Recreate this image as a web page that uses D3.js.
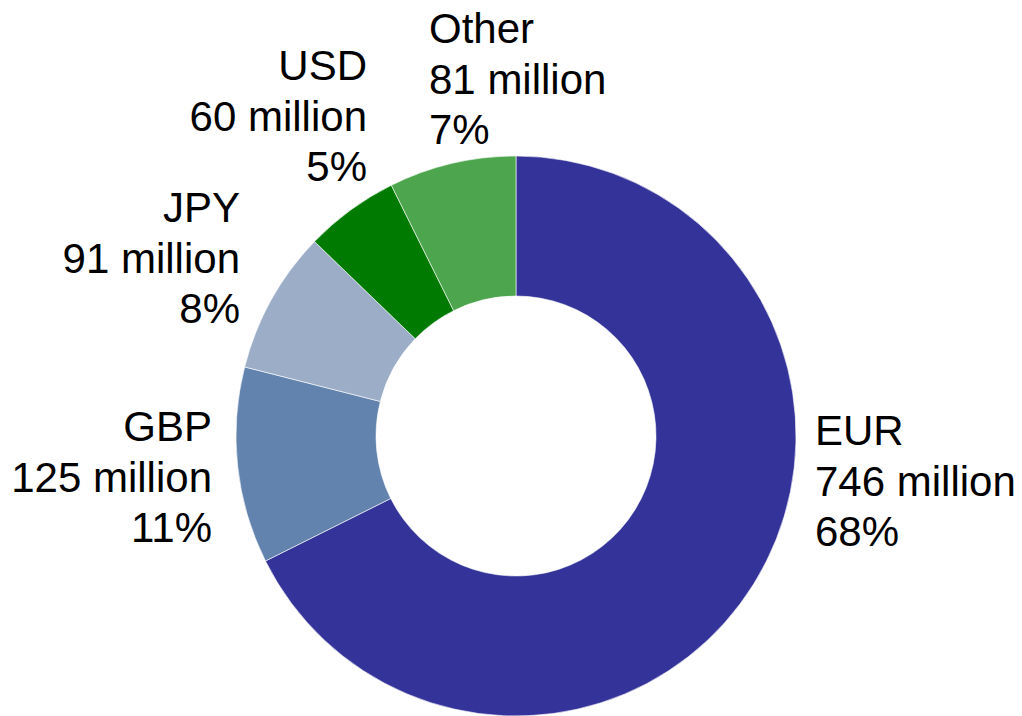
<!DOCTYPE html>
<html>
<head>
<meta charset="utf-8">
<script src="https://cdn.jsdelivr.net/npm/d3@7/dist/d3.min.js"></script>
<style>
  html, body { margin: 0; padding: 0; background: #ffffff; }
  svg { display: block; }
  text { font-family: "Liberation Sans", Arial, sans-serif; fill: #000000; }
</style>
</head>
<body>
<svg id="chart" width="1022" height="716"></svg>
<script>
// Currency breakdown (millions), clockwise from 12 o'clock
const currencies = ["EUR", "GBP", "JPY", "USD", "Other"];
const amounts = [746, 125, 91, 60, 81];
const percentLabels = ["68%", "11%", "8%", "5%", "7%"];
const sliceColors = ["#333399", "#6183ad", "#9caec7", "#007a00", "#4da64d"];

const width = 1022, height = 716;
const cx = 516, cy = 436;
const outerR = 280, innerR = 140;
const fontSize = 42, lineGap = 50.5;

// Label block placement per slice: anchor x, first baseline y, text anchor
const labelLayout = [
  { x: 815, y: 445, anchor: "start" },
  { x: 212, y: 441, anchor: "end" },
  { x: 240, y: 222, anchor: "end" },
  { x: 367, y: 80,  anchor: "end" },
  { x: 429, y: 43,  anchor: "start" }
];

const data = currencies.map((c, i) => ({
  name: c,
  value: amounts[i],
  pct: percentLabels[i],
  color: sliceColors[i],
  layout: labelLayout[i]
}));

const svg = d3.select("#chart");

const pie = d3.pie()
  .value(d => d.value)
  .sort(null)
  .startAngle(0)
  .endAngle(2 * Math.PI);

const arc = d3.arc()
  .innerRadius(innerR)
  .outerRadius(outerR);

const g = svg.append("g").attr("transform", `translate(${cx},${cy})`);

g.selectAll("path.slice")
  .data(pie(data))
  .join("path")
  .attr("class", "slice")
  .attr("d", arc)
  .attr("fill", d => d.data.color)
  .attr("stroke", "#ffffff")
  .attr("stroke-width", 0.6);

// Three-line data labels: name, amount, share
const labels = svg.selectAll("text.label")
  .data(data)
  .join("text")
  .attr("class", "label")
  .attr("font-size", fontSize)
  .attr("text-anchor", d => d.layout.anchor);

labels.each(function(d) {
  const t = d3.select(this);
  const lines = [d.name, `${d.value} million`, d.pct];
  lines.forEach((line, i) => {
    t.append("tspan")
      .attr("x", d.layout.x)
      .attr("y", d.layout.y + i * lineGap)
      .text(line);
  });
});
</script>
</body>
</html>
